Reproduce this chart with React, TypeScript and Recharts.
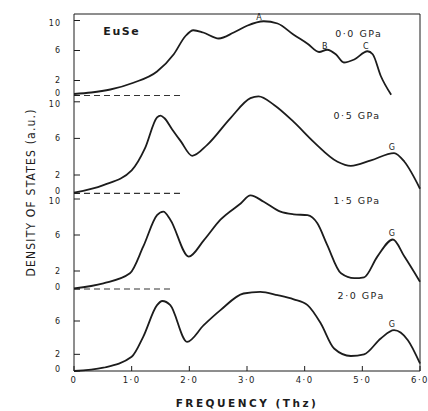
import React from "react";
import {
  LineChart,
  Line,
  XAxis,
  YAxis,
  ReferenceLine,
  ReferenceDot,
} from "recharts";

// ---- Data (frequency in THz, density of states in a.u.) ----
const FREQ_P00 = [0, 0.3, 0.63, 1.03, 1.44, 1.73, 1.93, 2.07, 2.24, 2.51, 2.77, 3.0, 3.29, 3.53, 3.81, 4.05, 4.25, 4.39, 4.54, 4.68, 4.86, 5.09, 5.18, 5.32, 5.5];
const DOS_P00 = [0.2, 0.4, 0.8, 1.7, 3.2, 5.5, 7.9, 8.7, 8.4, 7.6, 8.4, 9.3, 9.9, 9.6, 8.1, 6.9, 5.8, 6.1, 5.5, 4.4, 4.8, 5.9, 5.5, 2.6, 0.1];

const FREQ_P05 = [0, 0.51, 1.0, 1.23, 1.44, 1.5, 1.57, 1.7, 1.85, 2.05, 2.31, 2.71, 3.06, 3.2, 3.47, 3.81, 4.16, 4.57, 4.8, 5.15, 5.55, 5.73, 6.0];
const DOS_P05 = [0.07, 0.9, 2.5, 4.9, 8.3, 8.5, 8.2, 7.0, 5.7, 4.1, 5.3, 8.2, 10.4, 10.6, 9.65, 7.8, 5.6, 3.45, 3.0, 3.6, 4.4, 3.45, 0.5];

const FREQ_P15 = [0, 0.51, 0.97, 1.2, 1.44, 1.55, 1.67, 1.99, 2.25, 2.54, 2.89, 3.06, 3.29, 3.58, 3.81, 4.05, 4.22, 4.39, 4.63, 4.86, 5.03, 5.26, 5.53, 5.73, 6.0];
const DOS_P15 = [0.07, 0.63, 1.74, 4.7, 8.2, 8.6, 7.7, 3.6, 5.4, 7.7, 9.5, 10.4, 9.7, 8.6, 8.3, 8.2, 7.3, 4.9, 1.74, 1.2, 1.3, 3.6, 5.5, 3.6, 0.8];

const FREQ_P20 = [0, 0.51, 1.0, 1.2, 1.44, 1.53, 1.67, 1.96, 2.25, 2.54, 2.94, 3.23, 3.53, 3.81, 4.05, 4.28, 4.51, 4.8, 5.03, 5.32, 5.55, 5.79, 6.0];
const DOS_P20 = [0, 0.4, 1.7, 4.1, 7.9, 8.4, 7.9, 3.5, 5.5, 7.3, 9.3, 9.5, 9.1, 8.6, 7.9, 5.7, 2.7, 1.8, 2.0, 3.9, 4.9, 3.7, 0.9];

const X_TICKS = [0, 1, 2, 3, 4, 5, 6];
const Y_TICKS = [0, 2, 6, 10];
const Y_TICKS_LAST = [0, 2, 6];

const PRESSURES = ["0·0 GPa", "0·5 GPa", "1·5 GPa", "2·0 GPa"];

const zip = (f: number[], d: number[]) => f.map((x, i) => ({ f: x, dos: d[i] }));

const INK = "#1c1c1c";
const FONT = "'DejaVu Sans', Verdana, sans-serif";

type Note = { x: number; y: number; text: string; size?: number; bold?: boolean; spacing?: number };

const panels = [
  {
    data: zip(FREQ_P00, DOS_P00),
    top: 13,
    bottom: 315.5,
    ymax: 11,
    dashEnd: 1.84,
    notes: [
      { x: 0.83, y: 8.53, text: "EuSe", size: 11, bold: true, spacing: 1.6 },
      { x: 4.94, y: 8.27, text: PRESSURES[0], size: 9.5, spacing: 1.5 },
      { x: 3.21, y: 10.4, text: "A", size: 8 },
      { x: 4.35, y: 6.53, text: "B", size: 8 },
      { x: 5.06, y: 6.53, text: "C", size: 8 },
    ] as Note[],
  },
  {
    data: zip(FREQ_P05, DOS_P05),
    top: 92.65,
    bottom: 217.7,
    ymax: 11,
    dashEnd: 1.84,
    notes: [
      { x: 4.91, y: 8.45, text: PRESSURES[1], size: 9.5, spacing: 1.5 },
      { x: 5.51, y: 5.06, text: "G", size: 8 },
    ] as Note[],
  },
  {
    data: zip(FREQ_P15, DOS_P15),
    top: 190,
    bottom: 122,
    ymax: 11,
    dashEnd: 1.72,
    notes: [
      { x: 4.91, y: 9.78, text: PRESSURES[2], size: 9.5, spacing: 1.5 },
      { x: 5.51, y: 6.22, text: "G", size: 8 },
    ] as Note[],
  },
];

const lastNotes: Note[] = [
  { x: 4.98, y: 9.0, text: PRESSURES[3], size: 9.5, spacing: 1.5 },
  { x: 5.51, y: 5.64, text: "G", size: 8 },
];

const tickStyle = { fontSize: 8, fill: INK, fontFamily: FONT, letterSpacing: 1 };

const fmtX = (v: number) => (v === 0 ? "0" : v.toFixed(1).replace(".", "·"));

// Y tick label: the "0" of one panel and the "10" of the next one sit very close,
// so nudge them apart slightly.
const YTick = (props: any) => {
  const { x, y, payload } = props;
  const v = Number(payload?.value ?? 0);
  const shift = v === 0 ? -2 : v === 10 ? 2.5 : 0;
  return (
    <text
      x={x}
      y={y + shift}
      dy="0.355em"
      textAnchor="end"
      fill={INK}
      fontSize={8}
      fontFamily={FONT}
      style={{ letterSpacing: 1 }}
    >
      {String(v)}
    </text>
  );
};

const renderNotes = (notes: Note[]) =>
  notes.map((n, i) => (
    <ReferenceDot
      key={i}
      x={n.x}
      y={n.y}
      r={0}
      fill="none"
      stroke="none"
      ifOverflow="visible"
      label={{
        value: n.text,
        position: "center",
        fill: INK,
        fontSize: n.size ?? 9,
        fontWeight: n.bold ? 700 : 400,
        fontFamily: FONT,
        style: { letterSpacing: n.spacing ?? 0 },
      }}
    />
  ));

const W = 428;
const H = 411;

export default function App() {
  return (
    <div style={{ position: "absolute", left: 0, top: 0, width: W, height: H, background: "#ffffff" }}>
      {/* bottom panel + frame */}
      <div style={{ position: "absolute", left: 0, top: 0 }}>
        <LineChart width={W} height={H} data={zip(FREQ_P20, DOS_P20)} margin={{ top: 13, right: 7, bottom: 0, left: 0 }}>
          <XAxis
            dataKey="f"
            type="number"
            domain={[0, 6]}
            ticks={X_TICKS}
            interval={0}
            tickFormatter={fmtX}
            height={40}
            tickSize={-5}
            tickMargin={11}
            stroke={INK}
            tick={{ ...tickStyle, fontSize: 8.5, letterSpacing: 1.5 }}
            label={{
              value: "FREQUENCY  (Thz)",
              position: "insideBottom",
              offset: 4,
              fill: INK,
              fontSize: 10.5,
              fontWeight: 700,
              fontFamily: FONT,
              style: { letterSpacing: 2.5 },
            }}
          />
          <XAxis xAxisId="top" orientation="top" type="number" dataKey="f" domain={[0, 6]} height={1} tick={false} tickLine={false} stroke={INK} />
          <YAxis
            type="number"
            domain={[0, 42.84]}
            ticks={Y_TICKS_LAST}
            interval={0}
            width={74}
            tickSize={-6}
            tickMargin={19}
            stroke={INK}
            tick={<YTick />}
            label={{
              value: "DENSITY  OF  STATES  (a.u.)",
              angle: -90,
              position: "insideLeft",
              offset: 31,
              fill: INK,
              fontSize: 12,
              fontFamily: "'Liberation Sans Narrow', 'DejaVu Sans Condensed', sans-serif",
              style: { textAnchor: "middle", letterSpacing: 1.2 },
            }}
          />
          <YAxis yAxisId="right" orientation="right" type="number" domain={[0, 42.84]} width={1} tick={false} tickLine={false} stroke={INK} />
          <Line dataKey="dos" type="monotone" stroke={INK} strokeWidth={1.8} dot={false} isAnimationActive={false} />
          {renderNotes(lastNotes)}
        </LineChart>
      </div>
      {panels.map((p, idx) => (
        <div key={idx} style={{ position: "absolute", left: 0, top: 0 }}>
          <LineChart width={W} height={H} data={p.data} margin={{ top: p.top, right: 8, bottom: p.bottom, left: 44 }}>
            <XAxis dataKey="f" type="number" domain={[0, 6]} hide />
            <YAxis
              type="number"
              domain={[0, p.ymax]}
              ticks={Y_TICKS}
              interval={0}
              width={30}
              axisLine={false}
              tickSize={-6}
              tickMargin={19}
              stroke={INK}
              tick={<YTick />}
            />
            <ReferenceLine
              segment={[{ x: 0, y: 0 }, { x: p.dashEnd, y: 0 }]}
              stroke="#333"
              strokeWidth={1.2}
              strokeDasharray="6 4"
              ifOverflow="visible"
            />
            <Line dataKey="dos" type="monotone" stroke={INK} strokeWidth={1.8} dot={false} isAnimationActive={false} />
            {renderNotes(p.notes)}
          </LineChart>
        </div>
      ))}
    </div>
  );
}
